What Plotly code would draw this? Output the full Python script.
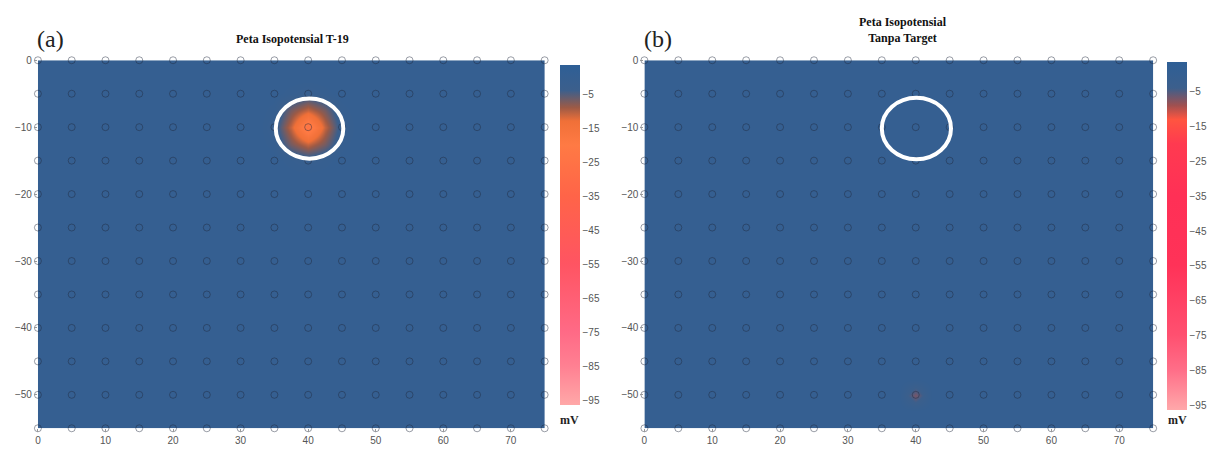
import numpy as np
import plotly.graph_objects as go

# ---------------- data ----------------
station_x = [0, 5, 10, 15, 20, 25, 30, 35, 40, 45, 50, 55, 60, 65, 70, 75]
station_y = [0, -5, -10, -15, -20, -25, -30, -35, -40, -45, -50, -55]
x_ticks = [0, 10, 20, 30, 40, 50, 60, 70]
y_ticks = [0, -10, -20, -30, -40, -50]
cbar_ticks = [-5, -15, -25, -35, -45, -55, -65, -75, -85, -95]

background_mV = 0.0
# panel (a): anomaly around T-19 target (x, y, mV)
anom_a_x = [40,
            37.5, 42.5, 40, 40,
            37.5, 42.5, 37.5, 42.5,
            35, 45, 40, 40,
            35, 45, 35, 45, 37.5, 42.5, 37.5, 42.5]
anom_a_y = [-10,
            -10, -10, -7.5, -12.5,
            -7.5, -7.5, -12.5, -12.5,
            -10, -10, -5, -15,
            -7.5, -7.5, -12.5, -12.5, -5, -5, -15, -15]
anom_a_v = [-24,
            -11, -11, -11, -11,
            -7, -7, -7, -7,
            -2, -2, -2, -2,
            -1, -1, -1, -1, -1, -1, -1, -1]
# panel (b): no target, one weak spot
anom_b_x = [40]
anom_b_y = [-50]
anom_b_v = [-7]

# hand-drawn ring marking the target area (centre x, centre y, rx, ry)
ring_a = [40.2, -10.2, 5.0, 4.5]
ring_b = [40.1, -10.2, 5.1, 4.6]

zmin, zmax = -96.5, 3.5

scale_a = [
    [0.0, "#FFA8A8"], [0.115, "#FF8092"], [0.215, "#FF6A86"],
    [0.415, "#FF5462"], [0.615, "#FF6448"], [0.765, "#FF7A44"],
    [0.835, "#F07038"], [0.875, "#9C5A46"], [0.925, "#3C5F8C"],
    [1.0, "#2E5F96"],
]
scale_b = [
    [0.0, "#FFA8AA"], [0.115, "#FF6E88"], [0.215, "#FF5070"],
    [0.415, "#FF3258"], [0.615, "#FF3056"], [0.765, "#FF3A50"],
    [0.835, "#FF5540"], [0.875, "#A05050"], [0.925, "#3C5F8C"],
    [1.0, "#2E5F96"],
]

# interpolation grid (2.5 m)
grid_x = np.arange(0, 75.01, 2.5)
grid_y = np.arange(-55, 0.01, 2.5)


def build_grid(ax, ay, av):
    z = np.full((len(grid_y), len(grid_x)), background_mV)
    for xx, yy, vv in zip(ax, ay, av):
        i = int(np.argmin(np.abs(grid_y - yy)))
        j = int(np.argmin(np.abs(grid_x - xx)))
        z[i, j] = vv
    return z


z_a = build_grid(anom_a_x, anom_a_y, anom_a_v)
z_b = build_grid(anom_b_x, anom_b_y, anom_b_v)

W, H = 1210, 449


def px(v):
    return v / W


def py(v):
    return 1 - v / H


dom_a = [px(35), px(543)]
dom_b = [px(643), px(1153)]
dom_y = [py(428), py(55)]

sx = [x for y in station_y for x in station_x]
sy = [y for y in station_y for x in station_x]

fig = go.Figure()


def cbar(x_left, top, bottom):
    return dict(
        x=px(x_left), xanchor="left", y=1 - (top + bottom) / 2 / H, yanchor="middle",
        len=(bottom - top) / H, lenmode="fraction", thickness=20, thicknessmode="pixels",
        xpad=0, ypad=0, outlinewidth=0, tickvals=cbar_ticks, ticks="",
        tickfont=dict(size=10, color="#555555", family="Liberation Sans, Arial"),
    )


fig.add_trace(go.Heatmap(
    x=grid_x, y=grid_y, z=z_a, zsmooth="best", zmin=zmin, zmax=zmax,
    colorscale=scale_a, colorbar=cbar(558, 60, 405), xaxis="x", yaxis="y",
    hoverinfo="skip",
))
fig.add_trace(go.Heatmap(
    x=grid_x, y=grid_y, z=z_b, zsmooth="best", zmin=zmin, zmax=zmax,
    colorscale=scale_b, colorbar=cbar(1167, 57, 410), xaxis="x2", yaxis="y2",
    hoverinfo="skip",
))

for xa, ya in (("x", "y"), ("x2", "y2")):
    fig.add_trace(go.Scatter(
        x=sx, y=sy, mode="markers", xaxis=xa, yaxis=ya, cliponaxis=False,
        marker=dict(symbol="circle-open", size=7, color="rgba(30,40,60,0.45)",
                    line=dict(width=1)),
        hoverinfo="skip", showlegend=False,
    ))

axis_common = dict(
    showgrid=False, zeroline=False, showline=False, ticks="outside", ticklen=3,
    tickcolor="#999999", tickfont=dict(size=10, color="#555555", family="Liberation Sans, Arial"),
)

fig.update_layout(
    width=W, height=H, margin=dict(l=0, r=0, t=0, b=0),
    paper_bgcolor="white", plot_bgcolor="white", showlegend=False,
    xaxis=dict(domain=dom_a, range=[0, 75], tickvals=x_ticks, anchor="y", **axis_common),
    yaxis=dict(domain=dom_y, range=[-55, 0], tickvals=y_ticks, anchor="x", **axis_common),
    xaxis2=dict(domain=dom_b, range=[0, 75], tickvals=x_ticks, anchor="y2", **axis_common),
    yaxis2=dict(domain=dom_y, range=[-55, 0], tickvals=y_ticks, anchor="x2", **axis_common),
)

shapes = []
for ring, xr, yr in ((ring_a, "x", "y"), (ring_b, "x2", "y2")):
    cx, cy, rx, ry = ring
    shapes.append(dict(type="circle", xref=xr, yref=yr, x0=cx - rx, x1=cx + rx,
                       y0=cy - ry, y1=cy + ry, line=dict(color="white", width=4)))
fig.update_layout(shapes=shapes)

serif = "Times New Roman, Liberation Serif, serif"


def note(text, x, y, size, color="#222222"):
    return dict(text=text, x=px(x), y=py(y), xref="paper", yref="paper", showarrow=False,
                xanchor="center", yanchor="middle", font=dict(family=serif, size=size, color=color))


ann = [
    note("<b>Peta Isopotensial T-19</b>", 290, 33, 12, "#111111"),
    note("<b>Peta Isopotensial<br>Tanpa Target</b>", 902, 24, 12, "#111111"),
    note("(a)", 48, 33, 24),
    note("(b)", 657, 33, 24),
    note("<b>mV</b>", 568, 420, 12),
    note("<b>mV</b>", 1177, 420, 12),
]
fig.update_layout(annotations=ann)

fig.write_html("out.html", config={"displayModeBar": False},
               post_script="document.body.style.margin='0';document.body.style.overflow='hidden';")
